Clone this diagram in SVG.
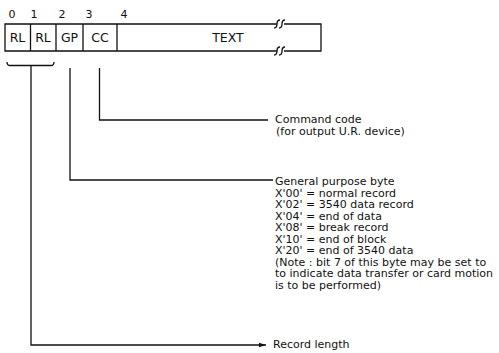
<svg xmlns="http://www.w3.org/2000/svg" width="499" height="353" viewBox="0 0 499 353">
<style>
.ln{fill:none;stroke:#111;stroke-width:1.3}
.t{font-family:"DejaVu Sans","Liberation Sans",Arial,sans-serif;font-size:11px;fill:#111}
.b{font-size:12.5px}
.c{text-anchor:middle}
</style>
<defs>
<marker id="ah" markerWidth="8" markerHeight="6" refX="7" refY="3" orient="auto" markerUnits="userSpaceOnUse">
<path d="M0,0.8 L7,3 L0,5.2 Z" fill="#111"/>
</marker>
</defs>
<rect width="499" height="353" fill="#fff"/>
<g id="byte-numbers">
<text class="t c" x="12" y="18">0</text>
<text class="t c" x="34" y="18">1</text>
<text class="t c" x="62" y="18">2</text>
<text class="t c" x="89" y="18">3</text>
<text class="t c" x="124" y="18">4</text>
</g>
<g id="record">
<path class="ln" d="M277,24 H5 V51 H277 M284,24 H321 V51 H284"/>
<path class="ln" d="M274,28 Q277,28 277,24 Q277,20 280,20 M279,28 Q282,28 282,24 Q282,20 285,20"/>
<path class="ln" d="M274,55 Q277,55 277,51 Q277,47 280,47 M279,55 Q282,55 282,51 Q282,47 285,47"/>
<path class="ln" d="M30.5,24 V51 M56,24 V51 M83,24 V51 M117,24 V51"/>
<text class="t b c" x="17.5" y="42">RL</text>
<text class="t b c" x="43" y="42">RL</text>
<text class="t b c" x="69.5" y="42">GP</text>
<text class="t b c" x="100" y="42">CC</text>
<text class="t b c" x="228" y="42">TEXT</text>
</g>
<g id="connectors">
<path class="ln" d="M7,62 Q7,65.5 10,65.5 H51 Q54,65.5 54,62"/>
<path class="ln" d="M31,65.5 V345 H266" marker-end="url(#ah)"/>
<path class="ln" d="M70,68 V180 H273"/>
<path class="ln" d="M99.5,68 V120 H268"/>
</g>
<g id="command-code">
<text class="t" x="275" y="123">Command code</text>
<text class="t" x="276" y="135">(for output U.R. device)</text>
</g>
<g id="general-purpose">
<text class="t" x="275" y="185">General purpose byte</text>
<text class="t" x="275" y="196.5">X'00' = normal record</text>
<text class="t" x="275" y="208">X'02' = 3540 data record</text>
<text class="t" x="275" y="219.5">X'04' = end of data</text>
<text class="t" x="275" y="231">X'08' = break record</text>
<text class="t" x="275" y="242.5">X'10' = end of block</text>
<text class="t" x="275" y="254">X'20' = end of 3540 data</text>
<text class="t" x="275" y="265.5">(Note : bit 7 of this byte may be set to</text>
<text class="t" x="275" y="277">to indicate data transfer or card motion</text>
<text class="t" x="275" y="288.5">is to be performed)</text>
</g>
<g id="record-length">
<text class="t" x="273" y="348">Record length</text>
</g>
</svg>
